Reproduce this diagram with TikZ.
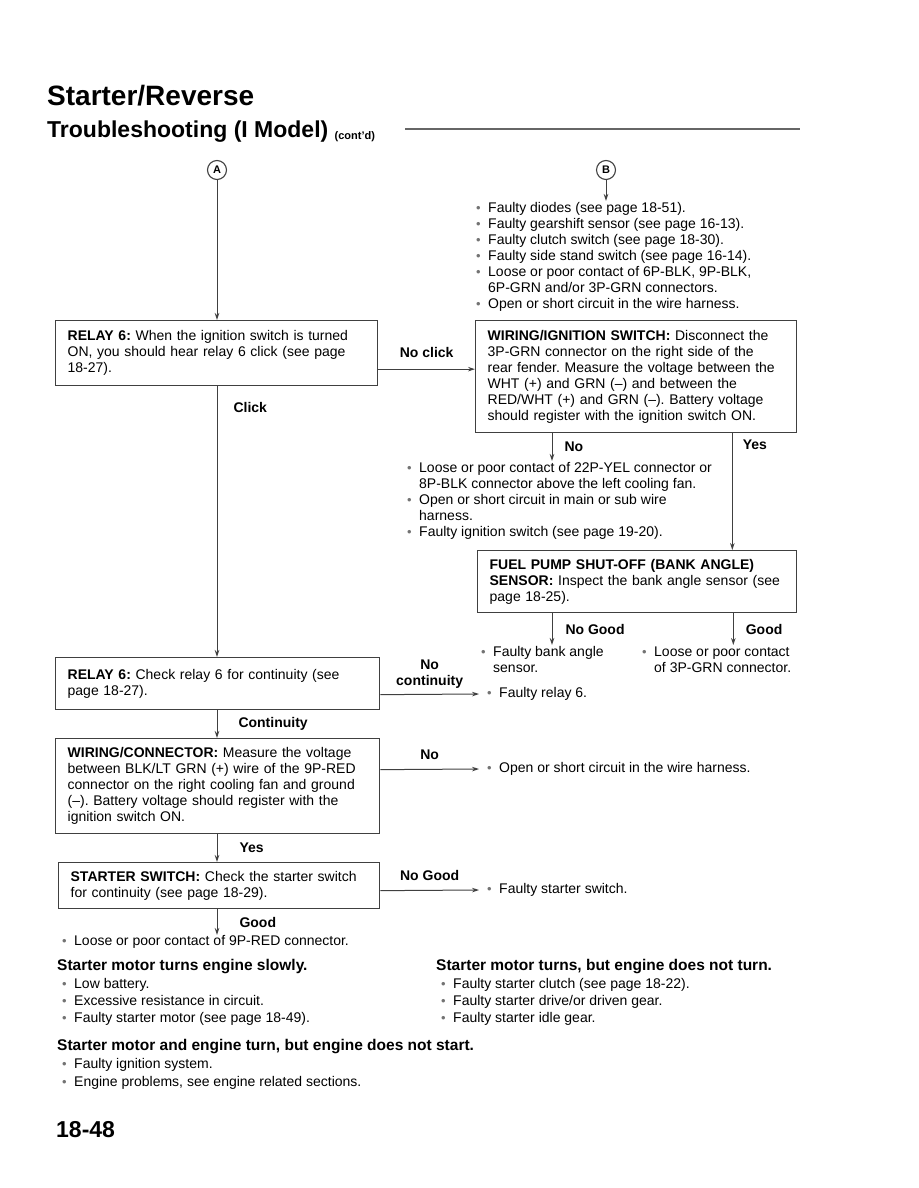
\documentclass[tikz,border=0pt]{standalone}
\usepackage{fontspec}
\setmainfont{Liberation Sans}
\usetikzlibrary{positioning,arrows.meta}

\newcommand\bul{\makebox[12pt][l]{\textcolor{black!55}{\fontsize{13}{13}\selectfont\textbullet}}}

\begin{document}
\frenchspacing
\begin{tikzpicture}[x=1pt, y=-1pt, >={Stealth[length=7pt,width=4.5pt]}, font=\fontsize{14}{16}\selectfont]
\tikzstyle{box}=[draw=black!75, line width=1.3pt, anchor=north west, align=left, inner xsep=12pt, inner ysep=0pt]
\tikzstyle{lbl}=[font=\fontsize{14}{16}\selectfont\bfseries, inner sep=0pt]
\tikzstyle{blist}=[anchor=north west, inner sep=0pt]
\tikzstyle{side}=[anchor=west, inner xsep=8pt, inner ysep=0pt]
\tikzstyle{flow}=[->, draw=black!75, line width=1pt]
\tikzstyle{entry}=[circle, draw=black!75, line width=1.1pt, minimum size=19pt, inner sep=0pt, font=\fontsize{11}{11}\selectfont\bfseries]
\tikzstyle{head}=[anchor=base west, inner sep=0pt, font=\fontsize{15.5}{18}\selectfont\bfseries]

\useasboundingbox (0,0) rectangle (918,1188);

% page heading
\node[anchor=base west, inner sep=0pt, font=\fontsize{28}{30}\selectfont\bfseries] (ttl) at (47,106) {Starter/Reverse};
\node[anchor=base west, inner sep=0pt, font=\fontsize{23}{26}\selectfont\bfseries] (sub) at (47,137) {Troubleshooting (I Model)};
\node[anchor=base west, inner sep=0pt, font=\fontsize{11}{12}\selectfont\bfseries, right=6pt of sub.base east] (cont) {(cont'd)};
\draw[black!60, line width=1.2pt] (405,129) -- (800,129);

% entry points
\node[entry] (cA) at (217,170) {A};
\node[entry] (cB) at (606,170) {B};

\node[blist] (blB) at (476,201) {\begin{tabular}{@{}l@{}l@{}}
\bul & Faulty diodes (see page 18-51).\\
\bul & Faulty gearshift sensor (see page 16-13).\\
\bul & Faulty clutch switch (see page 18-30).\\
\bul & Faulty side stand switch (see page 16-14).\\
\bul & Loose or poor contact of 6P-BLK, 9P-BLK,\\
     & 6P-GRN and/or 3P-GRN connectors.\\
\bul & Open or short circuit in the wire harness.
\end{tabular}};

% checks
\node[box, text width=298pt, minimum height=65pt] (r1) at (55,320)
  {\textbf{RELAY 6:} When the ignition switch is turned\\ ON, you should hear relay 6 click (see page\\ 18-27).};
\node[box, text width=297pt, minimum height=112pt] (wis) at (475,320)
  {\textbf{WIRING/IGNITION SWITCH:} Disconnect the\\ 3P-GRN connector on the right side of the\\ rear fender. Measure the voltage between the\\ WHT (+) and GRN (–) and between the\\ RED/WHT (+) and GRN (–). Battery voltage\\ should register with the ignition switch ON.};

\node[blist] (nol) at (407,461) {\begin{tabular}{@{}l@{}l@{}}
\bul & Loose or poor contact of 22P-YEL connector or\\
     & 8P-BLK connector above the left cooling fan.\\
\bul & Open or short circuit in main or sub wire\\
     & harness.\\
\bul & Faulty ignition switch (see page 19-20).
\end{tabular}};

\node[box, text width=295pt, minimum height=62pt] (fps) at (477,550)
  {\textbf{FUEL PUMP SHUT-OFF (BANK ANGLE)}\\ \textbf{SENSOR:} Inspect the bank angle sensor (see\\ page 18-25).};

\node[blist] (fb1) at (481,645) {\begin{tabular}{@{}l@{}l@{}}
\bul & Faulty bank angle\\
     & sensor.
\end{tabular}};
\node[blist] (fb2) at (642,645) {\begin{tabular}{@{}l@{}l@{}}
\bul & Loose or poor contact\\
     & of 3P-GRN connector.
\end{tabular}};

\node[box, text width=300pt, minimum height=52pt] (r2) at (55,657)
  {\textbf{RELAY 6:} Check relay 6 for continuity (see\\ page 18-27).};
\node[side] (fr6) at (479,694) {\bul Faulty relay 6.};

\node[box, text width=300pt, minimum height=95pt] (wc) at (55,738)
  {\textbf{WIRING/CONNECTOR:} Measure the voltage\\ between BLK/LT GRN (+) wire of the 9P-RED\\ connector on the right cooling fan and ground\\ (–). Battery voltage should register with the\\ ignition switch ON.};
\node[side] (wh) at (479,769) {\bul Open or short circuit in the wire harness.};

\node[box, text width=297pt, minimum height=46pt] (ss) at (58,862)
  {\textbf{STARTER SWITCH:} Check the starter switch\\ for continuity (see page 18-29).};
\node[side] (fss) at (479,890) {\bul Faulty starter switch.};

\node[blist] (lp) at (62,935) {\bul Loose or poor contact of 9P-RED connector.};

% connectors
\draw[flow] (cA) -- (cA |- r1.north);
\draw[flow] (cB) -- (cB |- blB.north);
\draw[flow] ([yshift=-16pt]r1.east) -- ([yshift=-16pt]r1.east -| wis.west) node[lbl, midway, above=11pt] {No click};
\draw[flow] (cA |- r1.south) -- (cA |- r2.north) node[lbl, pos=0.08, right=16pt] {Click};
\draw[flow] ([xshift=77pt]wis.south west) -- ([xshift=77pt]wis.south west |- nol.north) node[lbl, midway, right=12pt] {No};
\draw[flow] ([xshift=-65pt]wis.south east) -- ([xshift=-65pt]wis.south east |- fps.north) node[lbl, pos=0.1, right=10pt] {Yes};
\draw[flow] ([xshift=75pt]fps.south west) -- ([xshift=75pt]fps.south west |- fb1.north) node[lbl, midway, right=13pt] {No Good};
\draw[flow] ([xshift=-64pt]fps.south east) -- ([xshift=-64pt]fps.south east |- fb2.north) node[lbl, midway, right=12pt] {Good};
\draw[flow] ([yshift=-11pt]r2.east) -- (fr6.west) node[lbl, midway, above=5pt, align=center] {No\\continuity};
\draw[flow] (cA |- r2.south) -- (cA |- wc.north) node[lbl, midway, right=21pt] {Continuity};
\draw[flow] ([yshift=16.5pt]wc.east) -- (wh.west) node[lbl, midway, above=9pt] {No};
\draw[flow] (cA |- wc.south) -- (cA |- ss.north) node[lbl, midway, right=22pt] {Yes};
\draw[flow] ([yshift=-5pt]ss.east) -- (fss.west) node[lbl, midway, above=9pt] {No Good};
\draw[flow] (cA |- ss.south) -- (cA |- lp.north) node[lbl, midway, right=22pt] {Good};

% other symptoms
\node[head] (h1) at (57,970) {Starter motor turns engine slowly.};
\node[blist, font=\fontsize{14}{17}\selectfont] (s1) at (62,976) {\begin{tabular}{@{}l@{}l@{}}
\bul & Low battery.\\
\bul & Excessive resistance in circuit.\\
\bul & Faulty starter motor (see page 18-49).
\end{tabular}};
\node[head] (h2) at (436,970) {Starter motor turns, but engine does not turn.};
\node[blist, font=\fontsize{14}{17}\selectfont] (s2) at (441,976) {\begin{tabular}{@{}l@{}l@{}}
\bul & Faulty starter clutch (see page 18-22).\\
\bul & Faulty starter drive/or driven gear.\\
\bul & Faulty starter idle gear.
\end{tabular}};
\node[head] (h3) at (57,1050) {Starter motor and engine turn, but engine does not start.};
\node[blist, font=\fontsize{14}{18}\selectfont] (s3) at (62,1056) {\begin{tabular}{@{}l@{}l@{}}
\bul & Faulty ignition system.\\
\bul & Engine problems, see engine related sections.
\end{tabular}};

\node[anchor=base west, inner sep=0pt, font=\fontsize{23}{26}\selectfont\bfseries] (pg) at (56,1137) {18-48};
\end{tikzpicture}
\end{document}
